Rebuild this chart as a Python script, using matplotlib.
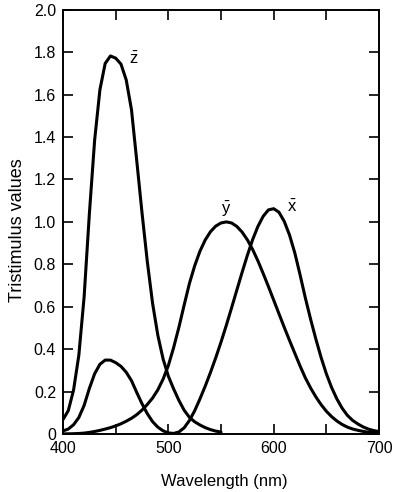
import matplotlib
matplotlib.use("Agg")
import matplotlib.pyplot as plt
import matplotlib.ticker as ticker

# CIE 1931 colour matching functions, 5 nm steps, 400-700 nm
wavelength = list(range(400, 705, 5))

xBar = [0.0143, 0.0232, 0.0435, 0.0776, 0.1344, 0.2148, 0.2839, 0.3285,
        0.3483, 0.3481, 0.3362, 0.3187, 0.2908, 0.2511, 0.1954, 0.1421,
        0.0956, 0.0580, 0.0320, 0.0147, 0.0049, 0.0024, 0.0093, 0.0291,
        0.0633, 0.1096, 0.1655, 0.2257, 0.2904, 0.3597, 0.4334, 0.5121,
        0.5945, 0.6784, 0.7621, 0.8425, 0.9163, 0.9786, 1.0263, 1.0567,
        1.0622, 1.0456, 1.0026, 0.9384, 0.8544, 0.7514, 0.6424, 0.5419,
        0.4479, 0.3608, 0.2835, 0.2187, 0.1649, 0.1212, 0.0874, 0.0636,
        0.0468, 0.0329, 0.0227, 0.0158, 0.0114]

yBar = [0.0004, 0.0006, 0.0012, 0.0022, 0.0040, 0.0073, 0.0116, 0.0168,
        0.0230, 0.0298, 0.0380, 0.0480, 0.0600, 0.0739, 0.0910, 0.1126,
        0.1390, 0.1693, 0.2080, 0.2586, 0.3230, 0.4073, 0.5030, 0.6082,
        0.7100, 0.7932, 0.8620, 0.9149, 0.9540, 0.9803, 0.9950, 1.0000,
        0.9950, 0.9786, 0.9520, 0.9154, 0.8700, 0.8163, 0.7570, 0.6949,
        0.6310, 0.5668, 0.5030, 0.4412, 0.3810, 0.3210, 0.2650, 0.2170,
        0.1750, 0.1382, 0.1070, 0.0816, 0.0610, 0.0446, 0.0320, 0.0232,
        0.0170, 0.0119, 0.0082, 0.0057, 0.0041]

zBar = [0.0679, 0.1102, 0.2074, 0.3713, 0.6456, 1.0391, 1.3856, 1.6230,
        1.7471, 1.7826, 1.7721, 1.7441, 1.6692, 1.5281, 1.2876, 1.0419,
        0.8130, 0.6162, 0.4652, 0.3533, 0.2720, 0.2123, 0.1582, 0.1117,
        0.0783, 0.0573, 0.0422, 0.0298, 0.0203, 0.0134, 0.0088]
zWavelength = wavelength[:len(zBar)]

yTickLabels = ["0", "0.2", "0.4", "0.6", "0.8", "1.0",
               "1.2", "1.4", "1.6", "1.8", "2.0"]
xTickLabels = ["400", "500", "600", "700"]

plt.rcParams["font.family"] = ["Liberation Sans", "DejaVu Sans"]
plt.rcParams["mathtext.fontset"] = "custom"
plt.rcParams["mathtext.rm"] = "Liberation Sans"

fig = plt.figure(figsize=(3.94, 4.92), dpi=100)
ax = fig.add_axes([0.160, 0.118, 0.802, 0.862])

lineWidth = 2.2
for xs, ys in [(wavelength, xBar), (wavelength, yBar), (zWavelength, zBar)]:
    ax.plot(xs, ys, color="black", lw=lineWidth,
            solid_joinstyle="round", solid_capstyle="round")

ax.set_xlim(400, 700)
ax.set_ylim(0, 2.0)

ax.xaxis.set_major_locator(ticker.FixedLocator([400, 500, 600, 700]))
ax.xaxis.set_major_formatter(ticker.FixedFormatter(xTickLabels))
ax.xaxis.set_minor_locator(ticker.FixedLocator([450, 550, 650]))
ax.yaxis.set_major_locator(ticker.FixedLocator([i * 0.2 for i in range(11)]))
ax.yaxis.set_major_formatter(ticker.FixedFormatter(yTickLabels))

ax.tick_params(axis="both", which="both", direction="in", top=True,
               right=True, length=7, width=1.2, labelsize=11.5, pad=5)

for spine in ax.spines.values():
    spine.set_linewidth(1.4)

ax.set_xlabel("Wavelength (nm)", fontsize=12)
ax.set_ylabel("Tristimulus values", fontsize=13)
ax.xaxis.set_label_coords(0.51, -0.095)
ax.yaxis.set_label_coords(-0.118, 0.48)

# Curve names
labelSize = 12
ax.text(467, 1.77, r"$\bar{\mathregular{z}}$", fontsize=labelSize, ha="center", va="center")
ax.text(555, 1.06, r"$\bar{\mathregular{y}}$", fontsize=labelSize, ha="center", va="center")
ax.text(617, 1.07, r"$\bar{\mathregular{x}}$", fontsize=labelSize, ha="center", va="center")

fig.savefig("out.png", dpi=100)
